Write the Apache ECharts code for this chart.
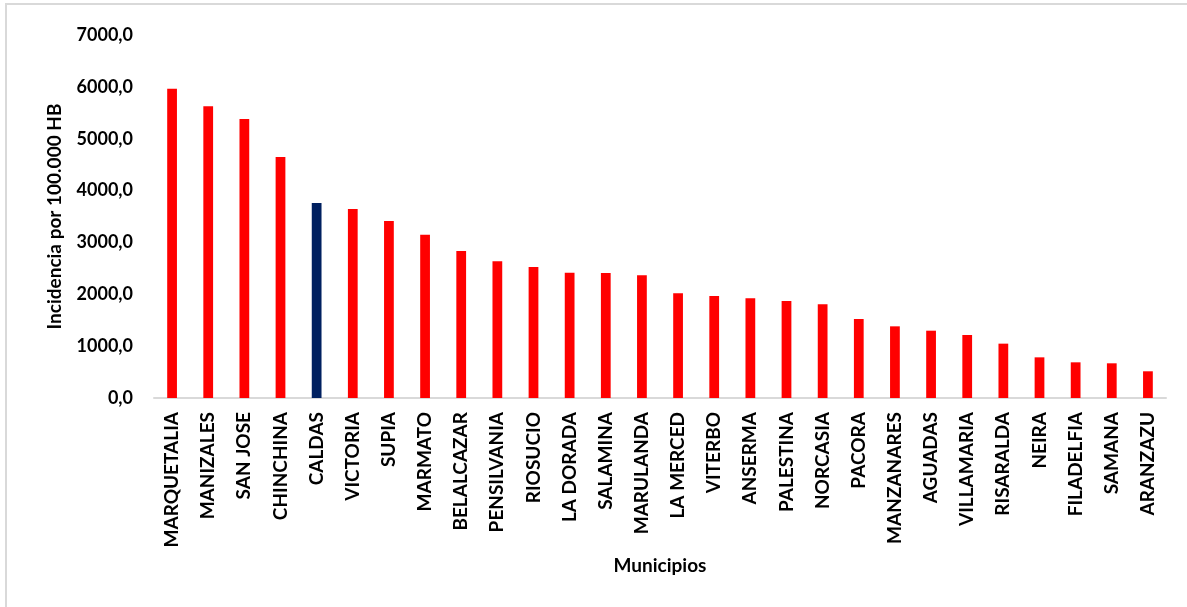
<!DOCTYPE html>
<html>
<head>
<meta charset="utf-8">
<script src="https://cdn.jsdelivr.net/npm/echarts@6/dist/echarts.min.js"></script>
<style>
  html, body { margin: 0; padding: 0; background: #fff; }
  #chart { width: 1187px; height: 607px; }
</style>
</head>
<body>
<div id="chart"></div>
<script>
// Municipios de Caldas, ordenados por incidencia
const municipios = [
  'MARQUETALIA', 'MANIZALES', 'SAN JOSE', 'CHINCHINA', 'CALDAS', 'VICTORIA',
  'SUPIA', 'MARMATO', 'BELALCAZAR', 'PENSILVANIA', 'RIOSUCIO', 'LA DORADA',
  'SALAMINA', 'MARULANDA', 'LA MERCED', 'VITERBO', 'ANSERMA', 'PALESTINA',
  'NORCASIA', 'PACORA', 'MANZANARES', 'AGUADAS', 'VILLAMARIA', 'RISARALDA',
  'NEIRA', 'FILADELFIA', 'SAMANA', 'ARANZAZU'
];

// Incidencia por 100.000 habitantes
const incidencia = [
  5965, 5625, 5380, 4645, 3760, 3645,
  3415, 3150, 2835, 2635, 2525, 2415,
  2410, 2365, 2018, 1967, 1922, 1870,
  1806, 1523, 1382, 1298, 1215, 1048,
  784, 688, 669, 515
];

// Total departamental resaltado en otro color
const destacado = 'CALDAS';

const yTicks = { min: 0, max: 7000, interval: 1000 };

const rojo = '#ff0000';
const azul = '#002060';
const fuente = 'Lato, "Open Sans", sans-serif';

const chart = echarts.init(document.getElementById('chart'));

chart.setOption({
  backgroundColor: '#ffffff',
  animation: false,
  graphic: [{
    type: 'rect',
    shape: { x: 6, y: 4, width: 1220, height: 640 },
    style: { fill: 'none', stroke: '#d9d9d9', lineWidth: 2 },
    silent: true
  }],
  grid: { left: 154, right: 21, top: 35, bottom: 209, containLabel: false },
  xAxis: {
    type: 'category',
    data: municipios,
    name: 'Municipios',
    nameLocation: 'middle',
    nameGap: 158,
    nameTextStyle: { fontFamily: fuente, fontWeight: 'bold', fontSize: 19, color: '#000' },
    axisLine: { lineStyle: { color: '#d9d9d9', width: 2 } },
    axisTick: { show: false },
    axisLabel: {
      rotate: 90,
      interval: 0,
      margin: 14,
      fontFamily: fuente,
      fontWeight: 'bold',
      fontSize: 19,
      color: '#000'
    }
  },
  yAxis: {
    type: 'value',
    min: yTicks.min,
    max: yTicks.max,
    interval: yTicks.interval,
    name: 'Incidencia por 100.000 HB',
    nameLocation: 'middle',
    nameGap: 90,
    nameTextStyle: { fontFamily: fuente, fontWeight: 'bold', fontSize: 19, color: '#000' },
    axisLine: { show: false },
    axisTick: { show: false },
    splitLine: { show: false },
    axisLabel: {
      margin: 21,
      fontFamily: fuente,
      fontWeight: 'bold',
      fontSize: 18,
      color: '#000',
      formatter: v => v.toFixed(1).replace('.', ',')
    }
  },
  series: [{
    type: 'bar',
    barWidth: '27%',
    data: incidencia.map((v, i) => ({
      value: v,
      itemStyle: { color: municipios[i] === destacado ? azul : rojo }
    }))
  }]
});
</script>
</body>
</html>
